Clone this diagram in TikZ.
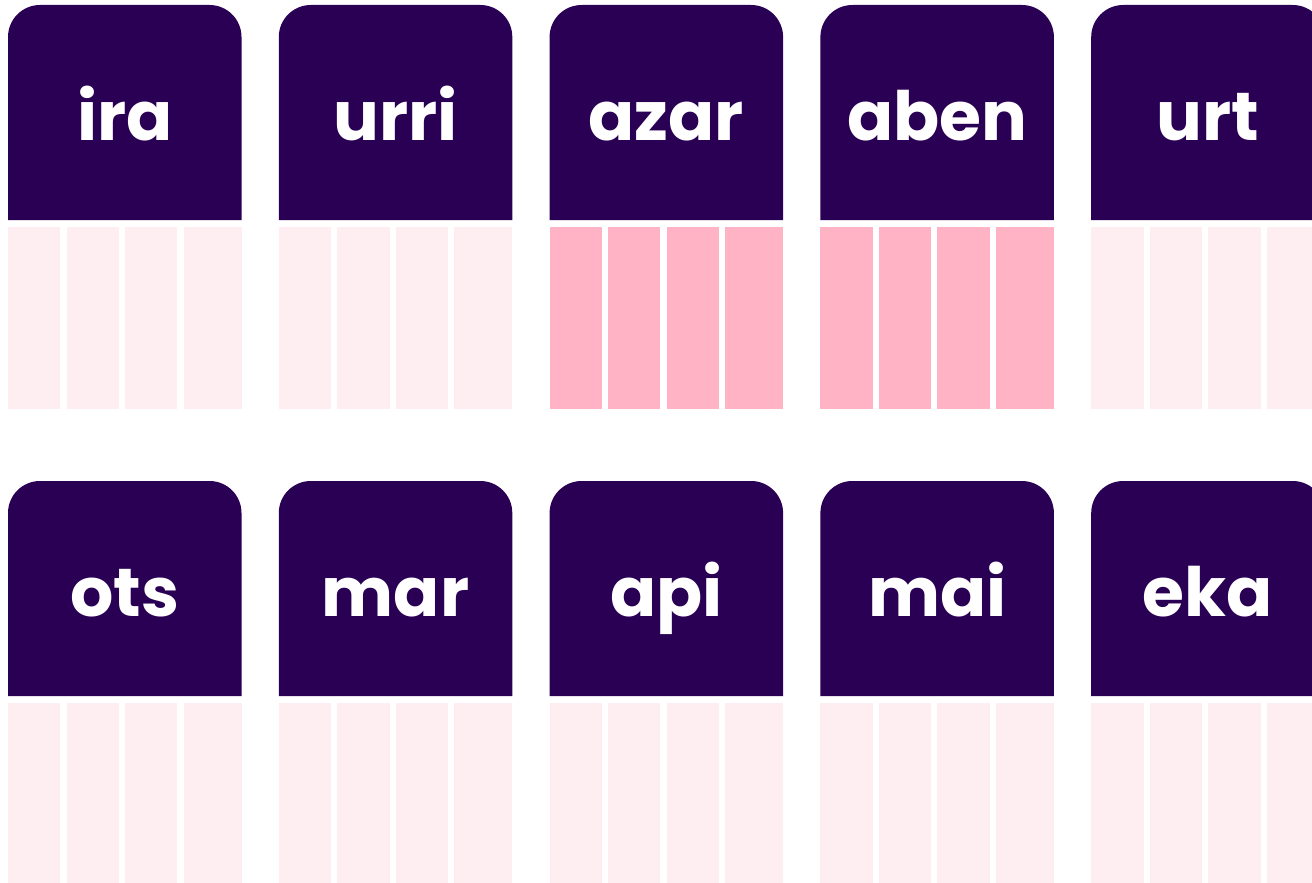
\documentclass[tikz,border=0pt]{standalone}
\usepackage{fontspec}
\setmainfont{Poppins}
\usetikzlibrary{positioning}

\definecolor{nightplum}{HTML}{2A0054}
\definecolor{blushpale}{HTML}{FFEEF1}
\definecolor{blushdeep}{HTML}{FFB3C5}

\begin{document}
\begin{tikzpicture}[x=1pt,y=-1pt,
    header/.style={fill=nightplum},
    barsoft/.style={fill=blushpale},
    barhot/.style={fill=blushdeep},
    cardtext/.style={text=white,anchor=base,inner sep=0pt,
      font=\fontsize{68}{76}\selectfont\bfseries}]
  \useasboundingbox (0,0) rectangle (1312,883);
  \clip (0,0) rectangle (1312,883);

  % month cards: header + four weekly bars
  \foreach \lbl/\tone/\col/\row in {ira/barsoft/0/0,urri/barsoft/1/0,azar/barhot/2/0,
      aben/barhot/3/0,urt/barsoft/4/0,ots/barsoft/0/1,mar/barsoft/1/1,
      api/barsoft/2/1,mai/barsoft/3/1,eka/barsoft/4/1} {
    \pgfmathsetmacro{\x}{8+270.8*\col}
    \pgfmathsetmacro{\y}{5+476*\row}
    \fill[header] (\x,\y+215) -- (\x,\y+32)
      arc[start angle=180,end angle=270,radius=32] -- (\x+201.5,\y)
      arc[start angle=270,end angle=360,radius=32] -- (\x+233.5,\y+215) -- cycle;
    \node[cardtext] (card-\lbl) at (\x+116.75,\y+135) {\lbl};
    \foreach \k in {0,...,3} {
      \pgfmathsetmacro{\bx}{\x+58.5*\k}
      \pgfmathsetmacro{\bw}{\k==3 ? 58 : 52.3}
      \fill[\tone] (\bx,\y+222) rectangle (\bx+\bw,\y+404);
    }
  }
\end{tikzpicture}
\end{document}
